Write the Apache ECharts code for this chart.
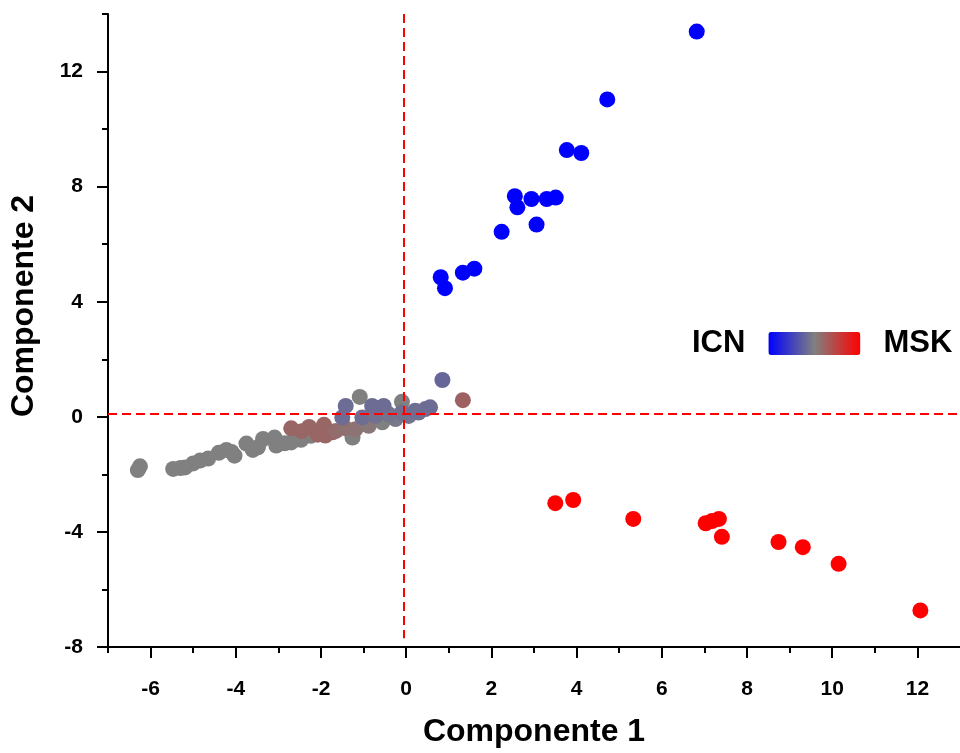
<!DOCTYPE html>
<html>
<head>
<meta charset="utf-8">
<title>Componente 1 / Componente 2</title>
<script src="https://cdn.jsdelivr.net/npm/echarts@6/dist/echarts.min.js"></script>
<style>
html, body { margin: 0; padding: 0; background: #fff; }
#main { width: 960px; height: 753px; }
</style>
</head>
<body>
<div id="main"></div>
<script>
// [componente 1, componente 2]
const icnPoints = [
	[6.82, 13.39], [4.72, 11.03], [3.77, 9.27], [4.11, 9.17], [2.55, 7.67],
	[2.61, 7.28], [2.94, 7.57], [3.30, 7.57], [3.51, 7.62], [3.06, 6.68],
	[2.24, 6.43], [1.60, 5.15], [1.33, 5.01], [0.81, 4.85], [0.91, 4.47]
];
const mskPoints = [
	[3.50, -3.00], [3.92, -2.89], [5.33, -3.55], [7.03, -3.70], [7.18, -3.62],
	[7.34, -3.55], [7.41, -4.17], [8.74, -4.35], [9.31, -4.53], [10.15, -5.11],
	[12.07, -6.73]
];
// [componente 1, componente 2, tono: 0 = ICN ... 1 = MSK]
const mixedPoints = [
	[-6.30, -1.85, 0.5], [-6.25, -1.72, 0.5], [-5.47, -1.81, 0.5], [-5.30, -1.78, 0.5],
	[-5.19, -1.76, 0.5], [-5.00, -1.62, 0.5], [-4.84, -1.52, 0.5], [-4.65, -1.45, 0.5],
	[-4.40, -1.25, 0.5], [-4.22, -1.15, 0.5], [-4.10, -1.22, 0.5], [-4.03, -1.35, 0.5],
	[-3.75, -0.93, 0.5], [-3.60, -1.15, 0.5], [-3.48, -1.06, 0.5], [-3.36, -0.77, 0.5],
	[-3.09, -0.72, 0.5], [-3.05, -1.00, 0.5], [-2.85, -0.92, 0.5], [-2.70, -0.89, 0.5],
	[-2.47, -0.80, 0.5], [-2.24, -0.66, 0.5], [-1.26, -0.72, 0.5], [-1.09, 0.69, 0.5],
	[-0.10, 0.52, 0.5],
	[-2.70, -0.40, 0.6], [-2.45, -0.50, 0.6], [-2.28, -0.35, 0.6], [-2.08, -0.62, 0.6],
	[-1.93, -0.28, 0.6], [-1.90, -0.65, 0.6], [-1.73, -0.54, 0.6], [-1.65, -0.49, 0.58],
	[-1.42, -0.40, 0.56], [-1.19, -0.43, 0.55], [-0.88, -0.31, 0.53], [-0.56, -0.19, 0.5],
	[-0.25, -0.08, 0.47], [0.06, 0.03, 0.45], [0.29, 0.15, 0.44],
	[-1.50, -0.02, 0.42], [-1.03, -0.02, 0.43], [-0.72, 0.03, 0.44], [-0.41, 0.09, 0.45],
	[-0.10, 0.15, 0.44], [0.21, 0.21, 0.43], [0.45, 0.27, 0.43], [0.56, 0.33, 0.42],
	[-1.42, 0.38, 0.42], [-0.80, 0.38, 0.42], [-0.53, 0.38, 0.42],
	[0.85, 1.28, 0.4], [1.33, 0.58, 0.62]
];
const xMajorTicks = [-6, -4, -2, 0, 2, 4, 6, 8, 10, 12];
const xMinorTicks = [-7, -5, -3, -1, 1, 3, 5, 7, 9, 11];
const yMajorTicks = [-8, -4, 0, 4, 8, 12];
const yMinorTicks = [-6, -2, 2, 6, 10, 14];
const refLineX = -0.05;
const refLineY = 0.12;

const font = "Arial, 'Liberation Sans', sans-serif";

const points = mixedPoints
	.concat(icnPoints.map(p => [p[0], p[1], 0]))
	.concat(mskPoints.map(p => [p[0], p[1], 1]));

const axisBase = (min, max, position) => ({
	type: "value",
	min: min,
	max: max,
	position: position,
	axisLine: { show: true, onZero: false, lineStyle: { color: "#000", width: 2 } },
	splitLine: { show: false }
});

const chart = echarts.init(document.getElementById("main"));
chart.setOption({
	animation: false,
	grid: { left: 108, right: -5, top: 14, bottom: 105 },
	xAxis: [
		Object.assign(axisBase(-7, 13, "bottom"), {
			axisTick: { customValues: xMajorTicks, length: 11, lineStyle: { color: "#000", width: 2 } },
			axisLabel: { customValues: xMajorTicks, margin: 32, fontSize: 21, fontWeight: "bold", color: "#000", fontFamily: font },
			name: "Componente 1",
			nameLocation: "middle",
			nameGap: 69,
			nameTextStyle: { fontSize: 32, fontWeight: "bold", color: "#000", fontFamily: font }
		}),
		Object.assign(axisBase(-7, 13, "bottom"), {
			axisLine: { show: false, onZero: false },
			axisTick: { customValues: xMinorTicks, length: 6, lineStyle: { color: "#000", width: 2 } },
			axisLabel: { show: false }
		})
	],
	yAxis: [
		Object.assign(axisBase(-8, 14, "left"), {
			axisTick: { customValues: yMajorTicks, length: 11, lineStyle: { color: "#000", width: 2 } },
			axisLabel: { customValues: yMajorTicks, margin: 25, fontSize: 21, fontWeight: "bold", color: "#000", fontFamily: font }
		}),
		Object.assign(axisBase(-8, 14, "left"), {
			axisLine: { show: false, onZero: false },
			axisTick: { customValues: yMinorTicks, length: 6, lineStyle: { color: "#000", width: 2 } },
			axisLabel: { show: false }
		})
	],
	visualMap: {
		type: "continuous",
		min: 0,
		max: 1,
		dimension: 2,
		seriesIndex: 0,
		orient: "horizontal",
		calculable: false,
		hoverLink: false,
		left: 692,
		top: 328,
		padding: 0,
		itemWidth: 23,
		itemHeight: 92,
		text: ["MSK", "ICN"],
		textGap: 23,
		textStyle: { fontSize: 31, fontWeight: "bold", color: "#000", fontFamily: font },
		inRange: { color: ["#0000ff", "#808080", "#ff0000"] }
	},
	graphic: [{
		type: "text",
		x: 24,
		y: 306,
		rotation: Math.PI / 2,
		style: {
			text: "Componente 2",
			font: "bold 32px " + font,
			fill: "#000",
			textAlign: "center",
			textVerticalAlign: "middle"
		}
	}],
	series: [{
		type: "scatter",
		xAxisIndex: 0,
		yAxisIndex: 0,
		symbolSize: 16,
		itemStyle: { opacity: 1 },
		data: points,
		markLine: {
			silent: true,
			symbol: ["none", "none"],
			label: { show: false },
			lineStyle: { color: "#ff0000", type: [9, 5], width: 2 },
			data: [
				[{ coord: [refLineX, 14] }, { coord: [refLineX, -7.7] }],
				[{ coord: [-7, refLineY] }, { coord: [13, refLineY] }]
			]
		}
	}]
});
</script>
</body>
</html>
